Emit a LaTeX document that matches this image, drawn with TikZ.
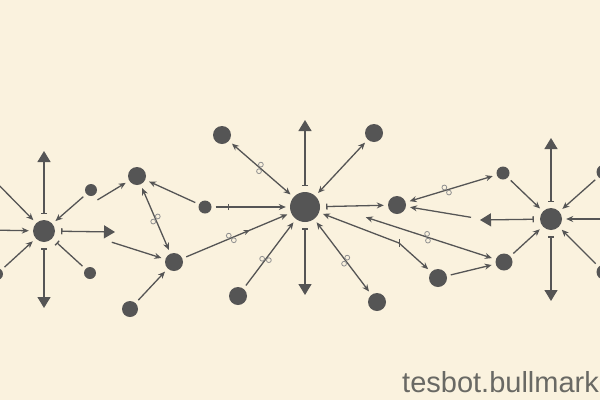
\documentclass[tikz,border=0pt]{standalone}
\usepackage{fontspec}
\setsansfont{Liberation Sans}
\usetikzlibrary{arrows.meta,calc,decorations.markings}
\definecolor{bg}{RGB}{250,242,222}
\definecolor{ink}{RGB}{85,85,85}
\definecolor{txt}{RGB}{105,105,100}
\tikzset{
  dot/.style={circle,fill=ink,inner sep=0pt,minimum size=#1},
  con/.style={draw=ink,line width=1.3pt,shorten >=4pt,shorten <=4pt},
  ah/.style={-{Stealth[length=7pt,width=6pt]}},
  dah/.style={{Stealth[length=7pt,width=6pt]}-{Stealth[length=7pt,width=6pt]}},
  barah/.style={{Bar[width=6pt]}-{Stealth[length=7pt,width=6pt]},shorten <=6pt},
  baronly/.style={{Bar[width=6pt]}-,shorten <=6pt},
  tri/.style={{Bar[width=6pt]}-{Triangle[length=11pt,width=13pt]},shorten <=6pt,shorten >=0pt},
  sqn/.style={sloped,inner sep=0pt,minimum width=4pt,minimum height=10pt},
  sqline/.style={draw=ink!65,line width=0.8pt,fill=bg},
  midbar/.style={postaction={decorate},decoration={markings,mark=at position #1 with {\draw[-,ink,line width=1pt,shorten <=0pt,shorten >=0pt] (0,-3pt) -- (0,3pt);}}},
  midarrow/.style={postaction={decorate},decoration={markings,mark=at position #1 with {\arrow{Stealth[length=6pt,width=5pt]}}}}
}
\newcommand{\sqmark}[1]{%
  \draw[sqline] ($(#1.center)!0.55!(#1.north west)$) circle[radius=2.4pt];
  \draw[sqline] ($(#1.center)!0.55!(#1.south east)$) circle[radius=2.4pt];}
\begin{document}
\begin{tikzpicture}[x=1pt,y=-1pt]
\useasboundingbox (0,0) rectangle (600,400);
\clip (0,0) rectangle (600,400);
\fill[bg] (0,0) rectangle (600,400);

% hubs
\node[dot=22pt] (H1) at (44,231) {};
\node[dot=30pt] (H2) at (305,207) {};
\node[dot=22pt] (H3) at (551,219) {};
% nodes
\node[dot=12pt] (n1) at (91,190) {};
\node[dot=12pt] (n2) at (90,273) {};
\node[dot=18pt] (A) at (137,176) {};
\node[dot=18pt] (B) at (174,262) {};
\node[dot=13pt] (C) at (205,207) {};
\node[dot=16pt] (D) at (130,309) {};
\node[dot=18pt] (E) at (222,135) {};
\node[dot=18pt] (F) at (374,133) {};
\node[dot=18pt] (G) at (397,205) {};
\node[dot=18pt] (I) at (238,296) {};
\node[dot=18pt] (J) at (377,302) {};
\node[dot=13pt] (K) at (503,173) {};
\node[dot=17pt] (L) at (504,262) {};
\node[dot=18pt] (M) at (438,278) {};
\node[dot=12pt] (oLL) at (-3,274) {};
\node[dot=15pt] (oTR) at (604,172) {};
\node[dot=15pt] (oBR) at (604,272) {};
% free ends
\coordinate (oUL) at (-12,174);
\coordinate (oL) at (-12,230);
\coordinate (oR) at (614,219);
\coordinate (p1) at (94,202);
\coordinate (p2) at (108,241);
\coordinate (p3) at (362,216);
\coordinate (p4) at (475,218);
\coordinate (kb) at (399,243);
\coordinate (h1u) at (44,151);
\coordinate (h1d) at (44,308);
\coordinate (h1r) at (115,232);
\coordinate (h2u) at (305,120);
\coordinate (h2d) at (305,295);
\coordinate (h3l) at (480,220);
\coordinate (h3u) at (551,138);
\coordinate (h3d) at (551,301);

% H1 connectors
\draw[con,tri] (H1) -- (h1u);
\draw[con,tri] (H1) -- (h1d);
\draw[con,tri] (H1) -- (h1r);
\draw[con,ah] (oUL) -- (H1);
\draw[con,ah] (oL) -- (H1);
\draw[con,ah] (oLL) -- (H1);
\draw[con,ah] (n1) -- (H1);
\draw[con,baronly] (H1) -- (n2);

% middle-left cluster
\draw[con,ah] (p1) -- (A);
\draw[con,ah] (C) -- (A);
\draw[con,dah] (A) -- (B) node[sqn,pos=.5] (s1) {};
\draw[con,ah] (p2) -- (B);
\draw[con,ah] (D) -- (B);
\draw[con,ah,midarrow=0.62] (B) -- (H2) node[sqn,pos=.45] (s2) {};

% H2 connectors
\draw[con,dah] (E) -- (H2) node[sqn,pos=.48] (s3) {};
\draw[con,tri] (H2) -- (h2u);
\draw[con,dah] (F) -- (H2);
\draw[con,ah,midbar=0.22] (C) -- (H2);
\draw[con,barah] (H2) -- (G);
\draw[con,tri] (H2) -- (h2d);
\draw[con,ah] (I) -- (H2) node[sqn,pos=.42] (s4) {};
\draw[con,dah] (H2) -- (J) node[sqn,pos=.55] (s5) {};
\draw[con,dah] (H2) -- (kb) -- (M);
\draw[ink,line width=1pt] ($(kb)+(0,-4)$) -- ($(kb)+(0,4)$);
\draw[con,dah] (p3) -- (L) node[sqn,pos=.49] (s6) {};

% right-middle cluster
\draw[con,dah] (G) -- (K) node[sqn,pos=.45] (s7) {};
\draw[con,ah] (p4) -- (G);
\draw[con,tri] (H3) -- (h3l);
\draw[con,ah] (M) -- (L);
\draw[con,ah] (L) -- (H3);
\draw[con,ah] (K) -- (H3);

% H3 connectors
\draw[con,tri] (H3) -- (h3u);
\draw[con,tri] (H3) -- (h3d);
\draw[con,ah] (oTR) -- (H3);
\draw[con,ah] (oR) -- (H3);
\draw[con,ah] (oBR) -- (H3);

% squiggle marks
\sqmark{s1}\sqmark{s2}\sqmark{s3}\sqmark{s4}\sqmark{s5}\sqmark{s6}\sqmark{s7}

% watermark text
\node[anchor=base west,inner sep=0pt,text=txt,font=\sffamily\fontsize{29}{29}\selectfont] (wm) at (402,392) {tesbot.bullmark};
\end{tikzpicture}
\end{document}
